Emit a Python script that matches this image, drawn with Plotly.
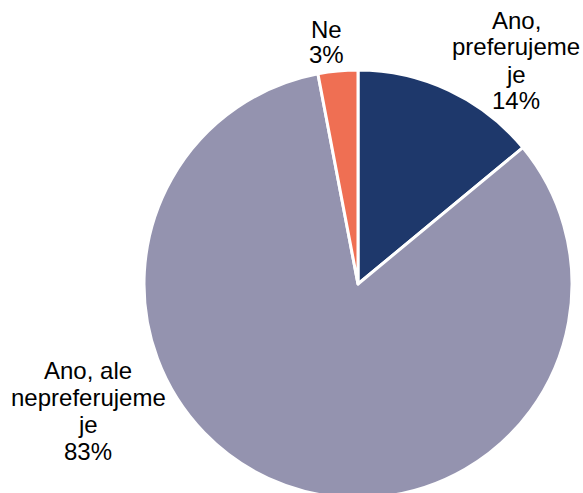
import plotly.graph_objects as go

# Survey answers and their shares (%)
categories = ["Ano, preferujeme je", "Ano, ale nepreferujeme je", "Ne"]
label_lines = [["Ano,", "preferujeme", "je"], ["Ano, ale", "nepreferujeme", "je"], ["Ne"]]
shares = [14, 83, 3]
colors = ["#1E386B", "#9493AF", "#EF6F53"]

# Canvas is a little taller than the viewport so the pie runs off the bottom edge
W, H = 583, 500

fig = go.Figure(
    go.Pie(
        labels=categories,
        values=shares,
        sort=False,
        direction="clockwise",
        rotation=0,
        textinfo="none",
        hoverinfo="skip",
        marker=dict(colors=colors, line=dict(color="white", width=3)),
        domain=dict(x=[144 / W, 572 / W], y=[2 / H, 1 - 70 / H]),
        showlegend=False,
    )
)

# Outside labels: (centre x, first-line y) in pixels, one line per annotation
label_anchor = [(516, 20), (88, 370), (326, 29)]
line_step = 27
font = dict(family="Liberation Sans, Arial, sans-serif", size=24, color="#000000")

annotations = []
for lines, value, (cx, y0) in zip(label_lines, shares, label_anchor):
    step = 26 if len(lines) == 1 else line_step
    for i, txt in enumerate(lines + [f"{value}%"]):
        y = y0 + i * step
        annotations.append(
            dict(
                text=txt,
                x=cx / W,
                y=1 - y / H,
                xref="paper",
                yref="paper",
                xanchor="center",
                yanchor="middle",
                showarrow=False,
                font=font,
            )
        )

fig.update_layout(
    width=W,
    height=H,
    margin=dict(l=0, r=0, t=0, b=0),
    paper_bgcolor="white",
    plot_bgcolor="white",
    annotations=annotations,
)

fig.write_html(
    "out.html",
    post_script="document.documentElement.style.overflow='hidden';document.body.style.overflow='hidden';",
)
